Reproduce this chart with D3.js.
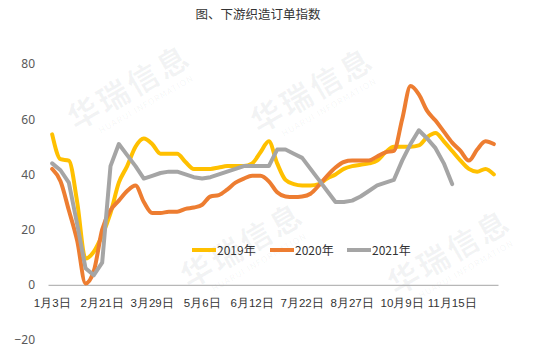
<!DOCTYPE html>
<html>
<head>
<meta charset="utf-8">
<script src="https://cdn.jsdelivr.net/npm/d3@7"></script>
<style>
  body { margin: 0; background: #fff; }
  svg { display: block; font-family: "Noto Sans CJK SC", "Noto Sans", sans-serif; }
</style>
</head>
<body>
<svg id="chart" width="550" height="353"></svg>
<script>
var title = "图、下游织造订单指数";

// weekly categories, only every 6th one is labelled on the axis
var categories = [
  "1月3日","1月10日","1月17日","1月24日","1月31日","2月14日",
  "2月21日","2月28日","3月7日","3月14日","3月21日","3月25日",
  "3月29日","4月5日","4月12日","4月19日","4月26日","4月30日",
  "5月6日","5月13日","5月20日","5月27日","6月3日","6月8日",
  "6月12日","6月19日","6月26日","7月3日","7月10日","7月17日",
  "7月22日","7月29日","8月5日","8月12日","8月19日","8月23日",
  "8月27日","9月3日","9月10日","9月17日","9月24日","9月30日",
  "10月9日","10月16日","10月23日","10月30日","11月6日","11月11日",
  "11月15日","11月22日","11月29日","12月6日","12月13日","12月20日"
];
var labelEvery = 6;

var s2019 = [54.5,45.5,45,30,9.5,12,18,26,37,43,50,53,
  51,47.5,47.5,47.5,44.5,42,42,42,42.5,43,43,43,
  44,48,52,44,38,36.5,36,36,36.5,38.5,40,42,
  43,43.5,44,45,48,50,50,50,50.5,53.5,55,52,
  48.5,45,42,41,42,40];
var s2020 = [42,37.5,27,16,0.5,5,20,27,30.5,34,36,30,
  26,26,26.5,26.5,27.5,28,29,32,32.5,34.5,37,38.5,
  39.5,39.5,37.5,33.5,32,31.8,32,33,36,39.5,42.5,44.5,
  45,45,45,46.5,48,48.5,60,72,69,63,59.5,55.5,
  51.5,48.5,45,49,52,51];
var s2021 = [44,41.5,37,22,6,3.5,8,43,51,47,43,38.5,
  39.5,40.5,41,41,40,39,38.5,39,40,41,42,43,
  43,43,43,49,49,47.5,46,42,38,34,30,30,
  30.5,32,34,36,37,38,45,51,56,53,49.5,44,
  36.5,null,null,null,null,null];

var seriesNames = ["2019年", "2020年", "2021年"];
var seriesColors = ["#FFC000", "#ED7D31", "#A5A5A5"];
var yTicks = [-20, 0, 20, 40, 60, 80];

var watermarks = [[135, 97], [318, 100], [248, 255], [455, 262]];

function drawChart() {
  var svg = d3.select("#chart");
  var left = 48, right = 498, top = 64, bottom = 340;

  var x = d3.scaleBand().domain(d3.range(categories.length)).range([left, right]);
  var y = d3.scaleLinear().domain([-20, 80]).range([bottom, top]);

  // faint watermark
  var wm = svg.append("g").attr("class", "watermark");
  watermarks.forEach(function(p) {
    var g = wm.append("g").attr("transform", "translate(" + p[0] + "," + p[1] + ") rotate(-30)");
    g.append("text")
      .attr("text-anchor", "middle")
      .attr("font-size", 31).attr("font-weight", "bold")
      .attr("fill", "#3a4a5a").attr("fill-opacity", 0.06)
      .attr("letter-spacing", 3)
      .text("华瑞信息");
    g.append("text")
      .attr("y", 15).attr("x", 6)
      .attr("text-anchor", "middle")
      .attr("font-size", 8.5)
      .attr("fill", "#3a4a5a").attr("fill-opacity", 0.06)
      .attr("letter-spacing", 1)
      .text("HUARUI INFORMATION");
  });

  svg.append("text")
    .attr("x", 258).attr("y", 19)
    .attr("text-anchor", "middle")
    .attr("font-size", 12.5).attr("fill", "#333")
    .text(title);

  // y axis labels only, no line
  var yAxis = d3.axisLeft(y).tickValues(yTicks).tickSize(0).tickPadding(0);
  var ya = svg.append("g").attr("transform", "translate(35,0)").call(yAxis);
  ya.select(".domain").remove();
  ya.selectAll("text").attr("font-size", 12).attr("fill", "#595959")
    .attr("font-family", "'Noto Sans', sans-serif");

  // category axis sits at zero
  var xAxis = d3.axisBottom(x)
    .tickValues(d3.range(0, categories.length, labelEvery))
    .tickFormat(function(i) { return categories[i]; })
    .tickSize(0).tickPadding(14);
  var xa = svg.append("g").attr("transform", "translate(0," + y(0) + ")").call(xAxis);
  xa.select(".domain").attr("stroke", "#a6a6a6").attr("stroke-width", 1);
  xa.selectAll("text").attr("font-size", 11.5).attr("fill", "#333");

  var allSeries = [s2019, s2020, s2021];
  allSeries.forEach(function(vals, k) {
    var line = d3.line()
      .defined(function(d) { return d != null; })
      .x(function(d, i) { return x(i) + x.bandwidth() / 2; })
      .y(function(d) { return y(d); })
      .curve(k == 2 ? d3.curveLinear : d3.curveMonotoneX);
    svg.append("path")
      .datum(vals)
      .attr("d", line)
      .attr("fill", "none")
      .attr("stroke", seriesColors[k])
      .attr("stroke-width", 4)
      .attr("stroke-linejoin", "round")
      .attr("stroke-linecap", "round");
  });

  // legend
  var legX = [192, 270, 347];
  var leg = svg.append("g");
  seriesNames.forEach(function(name, k) {
    leg.append("line")
      .attr("x1", legX[k]).attr("x2", legX[k] + 24)
      .attr("y1", 250).attr("y2", 250)
      .attr("stroke", seriesColors[k]).attr("stroke-width", 4);
    leg.append("text")
      .attr("x", legX[k] + 25).attr("y", 254.5)
      .attr("font-size", 12).attr("fill", "#333")
      .text(name);
  });
}

drawChart();
</script>
</body>
</html>
